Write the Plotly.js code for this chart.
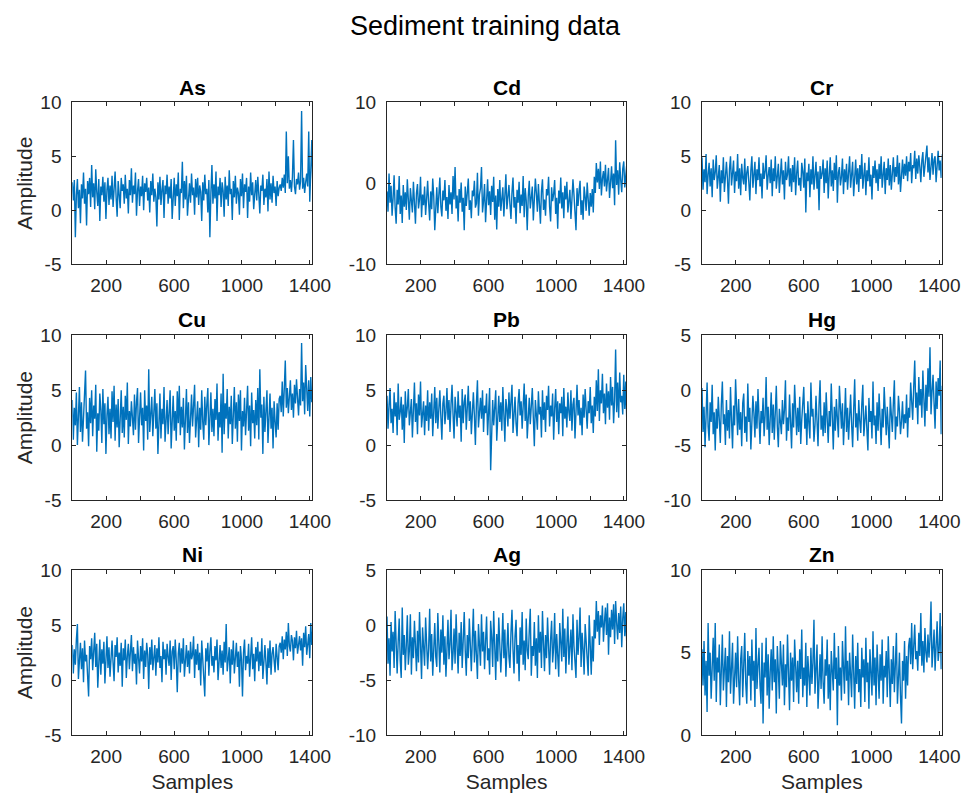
<!DOCTYPE html>
<html>
<head>
<meta charset="utf-8">
<script src="https://cdn.plot.ly/plotly-3.0.1.min.js"></script>
<style>html,body{margin:0;padding:0;background:#fff;}#chart{width:962px;height:796px;}</style>
</head>
<body>
<div id="chart"></div>
<script>
const sampleStart = 1;
const sampleStep = 6;

const names = ['As','Cd','Cr','Cu','Pb','Hg','Ni','Ag','Zn'];

const As = [2.6,0.9,2.8,-2.5,1.4,2.9,0.2,1.9,-1.2,2.4,1.1,3.5,0.6,2.0,-1.4,2.7,1.5,3.0,0.3,4.2,
1.2,2.5,0.1,3.8,1.7,0.4,2.9,-1.0,2.2,1.4,3.1,0.8,2.6,-0.8,1.9,3.0,0.5,2.3,1.0,3.2,
0.3,2.1,3.6,1.2,-0.6,2.7,1.6,0.2,3.0,1.8,2.4,0.6,3.3,1.1,2.0,-0.3,2.8,1.4,3.9,0.7,
2.3,1.5,3.5,-0.5,1.8,2.9,0.4,2.2,1.3,3.2,0.0,2.5,1.7,3.0,0.9,2.1,-0.2,2.7,1.4,3.4,
0.8,2.0,1.2,-1.5,2.6,1.0,3.1,0.5,1.9,2.8,-0.7,2.3,1.5,3.3,0.6,2.2,1.1,2.9,-0.8,1.7,
3.0,0.4,2.4,1.3,3.5,-0.9,2.0,1.6,4.5,0.2,2.7,1.0,3.2,-0.5,1.8,2.5,0.7,3.4,1.4,2.1,
-0.4,2.9,1.2,3.0,0.5,2.3,1.7,-1.0,2.6,0.9,3.3,1.5,2.0,-0.2,2.8,-2.5,1.6,4.2,0.6,2.4,
1.1,3.6,-1.0,2.2,1.4,3.0,0.3,2.6,1.8,-0.6,3.1,1.0,2.3,0.4,3.7,1.5,2.0,-0.9,2.7,1.2,
3.2,0.6,2.1,1.6,-0.4,2.9,1.3,3.4,0.2,2.4,1.7,3.0,-0.7,2.2,0.8,3.5,1.4,2.6,0.1,1.9,
2.8,0.9,3.1,1.5,-0.3,2.3,1.8,3.3,0.5,2.0,1.2,2.9,-0.1,3.6,1.0,2.5,0.7,3.2,1.6,2.2,
0.4,2.7,1.3,2.1,
2.4,1.8,3.0,2.1,3.3,1.6,7.3,2.5,5.0,2.0,2.8,1.7,3.1,6.5,2.2,1.5,2.9,2.4,3.5,1.9,2.7,9.2,2.0,3.0,1.6,2.6,3.4,2.2,7.3,0.8,2.9,6.5,2.3];

const Cd = [-1.0,-3.5,1.2,-2.4,-0.3,-4.0,-1.8,1.0,-3.0,-5.0,-0.8,-2.6,0.9,-3.8,-1.5,-4.9,-0.2,-2.9,-1.1,-3.3,
0.5,-2.2,-4.5,-0.6,-1.7,-3.6,0.2,-2.8,-5.0,-1.2,-0.1,-3.1,-2.0,0.8,-4.2,-1.4,-2.7,-0.4,-3.9,-1.9,
0.3,-2.5,-4.6,-1.0,-3.2,0.6,-1.6,-5.8,-2.3,-0.5,-3.7,-1.3,0.7,-2.9,-4.1,-0.9,-2.1,0.4,-3.4,-1.7,
-4.4,-0.2,-2.6,-1.1,-3.8,0.9,-2.0,2.0,-3.1,-1.5,-4.7,-0.7,-2.4,0.1,-3.5,-1.8,-5.8,-0.4,-2.8,-1.2,
0.6,-3.3,-2.1,-4.3,-0.9,-1.6,0.3,-3.0,-2.5,1.3,-4.0,-1.4,-0.6,2.0,-3.6,-2.2,-0.1,-4.8,-1.9,0.5,
-2.7,-1.0,-3.9,-0.3,-2.3,0.8,-4.5,-1.5,-5.7,-0.7,-2.9,0.4,-3.4,-1.8,-0.5,-4.1,-2.0,1.1,-3.2,-1.3,
-0.2,-2.6,-4.4,-1.1,0.7,-3.0,-1.7,-5.0,-0.8,-2.4,0.2,-3.7,-1.4,-2.8,0.9,-4.2,-0.6,-2.1,-5.8,-1.6,
0.3,-3.1,-1.9,-0.4,-4.6,-2.3,0.6,-1.2,-3.5,-0.1,-2.7,-5.0,-1.0,0.5,-3.3,-2.0,-4.0,-0.7,-1.5,0.8,
-2.9,-4.7,-0.5,-2.2,-1.3,0.4,-3.8,-1.8,-5.6,-0.9,-2.5,0.7,-3.1,-1.1,-4.3,-0.3,-2.0,0.2,-3.6,-1.6,
-0.8,-4.4,-2.4,0.5,-1.4,-3.2,-5.8,-0.6,-2.8,-1.0,0.3,-3.9,-2.1,-4.5,-0.4,-1.7,-3.4,0.1,-2.6,-4.0,
-1.2,-2.9,-0.7,-3.6,
0.8,-1.2,2.5,0.1,1.8,-0.7,2.7,-1.5,0.6,1.5,-0.4,2.3,-1.0,0.9,1.9,-1.8,0.3,2.1,-0.6,1.2,-2.7,5.3,-0.2,1.6,-1.4,2.6,0.4,-1.1,1.8,2.7,-0.5,1.0,2.4];

const Cr = [4.9,1.9,3.8,2.6,5.2,1.5,3.3,4.4,2.2,3.9,1.2,4.7,2.8,3.5,5.1,2.0,3.1,4.2,0.8,3.7,
2.5,4.9,1.7,3.4,4.5,2.9,0.6,3.8,5.0,2.3,3.2,4.6,1.6,3.6,2.7,5.2,2.0,3.9,1.4,4.3,
3.0,2.4,4.8,1.8,3.5,4.1,2.6,0.9,3.7,5.0,2.1,3.3,4.5,1.5,3.8,2.8,4.9,2.2,3.4,1.1,
4.4,2.9,3.6,5.1,1.9,3.2,4.0,2.5,4.7,1.3,3.9,2.7,5.0,2.0,3.5,4.3,1.6,3.1,4.8,2.4,
3.7,1.0,4.5,2.8,3.3,5.0,2.2,3.9,1.7,4.2,2.6,4.9,1.4,3.4,4.6,2.3,3.0,1.8,4.4,3.6,
2.1,4.8,-0.2,3.5,2.7,4.3,1.2,3.8,2.4,5.0,1.9,3.2,4.5,2.0,3.6,0.0,4.1,2.9,3.4,4.7,
1.6,3.9,2.5,4.6,1.1,3.3,4.9,2.2,3.7,1.8,4.4,2.8,5.1,0.7,3.5,4.0,2.3,3.1,4.8,1.5,
3.8,2.6,4.3,1.9,3.4,5.0,2.1,3.6,4.5,1.3,3.0,4.7,2.4,3.9,1.7,4.2,2.9,5.2,2.0,3.5,
4.4,1.4,3.7,2.7,4.9,2.2,3.3,1.0,4.1,3.0,4.6,2.5,3.8,1.8,4.3,2.9,5.0,2.1,3.6,4.5,
1.5,3.9,2.8,4.8,2.3,4.2,1.9,3.5,4.9,2.6,4.0,3.1,5.1,2.4,4.4,1.7,3.8,4.7,2.9,4.3,
3.2,5.0,2.7,4.5,3.6,5.3,2.5,4.2,3.9,5.5,2.9,4.8,3.4,5.1,4.0,2.6,4.6,5.4,3.1,4.3,5.2,6.0,3.5,4.9,2.8,4.4,5.3,3.3,4.7,5.0,2.6,4.1,5.5,3.7,4.6,3.0,5.2];

const Cu = [4.1,0.5,3.4,1.8,4.8,0.0,2.6,5.3,1.2,3.9,0.3,2.2,4.6,6.8,1.5,3.0,-0.1,4.3,2.0,5.0,
0.8,3.6,2.4,5.5,-0.6,2.9,1.3,4.7,3.2,0.2,5.1,1.9,3.8,-0.8,2.7,4.4,1.0,3.3,0.6,4.9,
2.1,5.4,0.4,3.7,1.6,4.2,-0.2,2.8,5.0,1.1,3.5,0.7,4.5,2.3,5.7,0.1,3.1,1.7,4.0,2.5,
0.9,4.6,1.4,3.9,5.2,0.2,2.6,4.8,1.8,3.4,-0.5,5.0,2.2,3.6,0.5,6.9,1.2,3.0,4.4,0.8,
2.9,5.1,1.5,3.8,-0.8,2.4,4.7,0.6,3.3,1.9,5.3,0.3,2.7,4.1,1.0,3.6,5.0,-0.3,2.2,4.5,
1.3,3.1,0.4,4.9,2.0,5.4,0.9,3.5,1.6,4.3,-0.4,2.8,5.1,1.1,3.9,0.2,2.5,4.6,1.7,3.2,
5.5,0.7,2.9,4.0,-0.2,3.4,1.4,5.0,2.1,0.5,4.4,1.8,3.7,5.2,0.0,2.6,4.8,1.2,3.3,0.8,
4.2,2.3,5.6,0.4,3.0,1.6,4.7,-0.7,6.5,1.0,3.8,2.4,5.1,0.6,3.5,1.9,4.5,0.1,2.8,5.3,
1.5,3.9,0.3,4.6,2.2,5.0,-0.5,3.1,1.7,4.3,0.9,2.7,5.4,1.3,3.6,-0.1,4.8,2.0,3.2,0.6,
4.1,1.8,5.2,0.5,6.9,2.5,3.7,-0.8,4.4,1.2,3.0,5.0,0.2,2.6,4.7,1.5,3.4,-0.3,4.0,2.1,
0.7,3.8,1.4,4.2,
4.5,3.0,5.8,2.6,4.9,7.7,3.4,5.2,2.9,4.1,5.9,3.2,4.7,2.5,5.5,3.8,6.0,4.3,2.7,5.1,3.6,9.3,4.0,5.7,2.8,7.3,4.4,3.1,5.9,2.6,6.2,3.9,5.0];

const Pb = [4.5,1.5,3.6,5.2,2.0,3.3,1.1,4.8,2.6,3.9,0.9,5.6,2.3,3.0,4.4,1.4,3.7,0.2,4.9,2.5,
3.4,5.1,1.8,2.8,4.2,0.7,3.5,5.7,2.1,3.8,1.0,4.6,2.7,5.8,1.6,3.2,4.0,0.9,3.6,2.2,
5.0,1.3,3.9,2.4,4.7,0.8,3.1,5.3,2.0,4.3,1.5,3.4,5.0,2.6,0.5,3.8,4.5,1.9,3.0,5.2,
2.3,4.1,1.2,3.7,5.5,2.8,0.6,4.4,3.2,1.7,4.9,2.5,3.6,0.3,5.1,2.0,3.9,4.6,1.4,3.3,
5.4,2.2,4.0,1.0,3.5,4.8,2.7,0.0,3.8,5.9,1.6,3.1,4.3,2.4,5.0,1.2,3.6,2.9,4.7,0.9,
3.4,5.2,-2.3,2.6,4.1,1.8,3.7,5.0,0.4,3.0,4.5,2.1,3.9,1.3,5.3,2.8,0.3,4.2,3.3,1.7,
4.8,2.4,3.6,5.5,1.1,3.2,4.4,2.0,0.8,3.8,5.1,2.7,4.0,1.5,3.4,5.6,2.2,4.6,0.6,3.1,
4.3,1.9,3.7,5.2,2.5,-0.1,4.1,3.0,1.4,4.9,2.8,3.5,0.7,5.0,2.3,3.9,1.2,4.5,3.2,5.4,
1.7,3.6,2.6,4.7,0.5,3.3,5.1,2.1,4.0,1.0,3.8,2.9,4.4,0.8,5.2,2.4,3.5,1.6,4.8,3.0,
2.2,5.0,1.3,3.7,4.3,0.6,3.1,5.5,2.7,4.1,1.8,3.4,0.9,4.6,2.5,5.1,3.2,1.5,4.0,2.9,
5.3,2.0,3.6,1.1,
4.4,2.6,5.9,3.1,6.9,2.2,5.0,3.8,6.5,2.9,4.7,1.9,5.6,3.4,4.9,2.3,6.2,3.6,5.3,2.0,4.1,8.7,3.0,5.7,2.5,6.6,3.9,4.5,2.8,6.4,3.3,5.8,2.1];

const Hg = [0.2,-3.8,-1.5,-5.2,-2.4,0.7,-3.3,-4.6,-1.1,-2.9,0.5,-4.0,-2.0,-5.5,-1.7,-3.5,-0.6,-2.6,-4.8,-1.3,
0.8,-3.1,-2.2,-5.0,-0.9,-3.7,-1.8,-4.4,0.3,-2.7,-5.3,-1.4,-3.2,1.0,-2.5,-4.1,-0.8,-3.6,-2.0,-5.1,
-1.2,-0.3,-3.9,-2.4,-4.7,0.6,-2.9,-1.6,-5.4,-3.3,-0.5,-2.1,-4.3,-1.0,-3.5,0.1,-2.7,-4.9,-1.9,-3.0,
-0.7,-4.2,-2.3,1.2,-3.6,-1.5,-5.0,-2.8,-0.2,-3.9,-1.3,-4.5,-2.0,0.4,-3.3,-5.2,-1.7,-2.6,-4.0,-0.9,
-3.1,-1.8,0.9,-4.6,-2.5,-3.7,-0.4,-2.9,-5.3,-1.2,-3.4,0.5,-2.2,-4.1,-1.6,-3.8,-0.6,-4.9,-2.7,-1.4,
0.3,-3.5,-2.1,-5.0,-1.0,-3.0,-4.4,0.7,-2.4,-1.7,-4.7,-3.2,-0.5,-2.8,-5.1,-1.3,0.9,-3.6,-2.3,-4.2,
-1.1,-3.9,-0.2,-2.6,-4.8,-1.9,-3.3,0.6,-2.0,-5.4,-1.5,-3.7,-0.8,-2.9,-4.3,0.4,-2.2,-3.5,-1.2,-5.0,
-2.7,0.2,-3.8,-1.6,-4.5,-2.4,-0.4,-3.1,-5.2,-1.8,1.0,-3.4,-2.1,-4.6,-0.9,-2.8,-3.9,-1.3,0.5,-4.2,
-2.5,-1.4,-3.6,-5.5,-0.7,-2.9,-1.9,-4.4,0.8,-3.2,-2.3,-4.9,-1.1,-3.7,-0.3,-2.6,-5.0,-1.7,-3.4,0.3,
-2.0,-4.1,-1.5,-3.0,-5.3,-0.6,-2.7,-3.8,-1.2,0.9,-4.5,-2.4,-3.3,-0.5,-1.9,-4.0,-2.8,-1.0,-3.5,-2.2,
-3.0,-0.4,-4.3,-1.6,-2.5,0.7,-1.0,-2.7,0.3,2.7,-1.6,-0.2,-3.1,1.2,-1.4,0.1,-2.5,1.8,-0.8,-3.3,0.5,-1.9,2.0,-0.6,3.9,-2.2,-0.1,1.4,-1.2,-3.5,0.8,-1.7,1.1,-0.5,2.7,-4.0,0.4];

const Ni = [3.2,0.6,2.8,1.4,3.7,5.1,0.1,2.5,3.4,1.0,2.9,-0.2,3.6,1.7,2.3,0.4,-1.5,3.1,1.9,3.8,
0.9,2.6,4.3,1.2,3.3,-0.7,2.0,3.7,0.5,2.8,1.5,3.5,-0.3,2.4,4.0,1.1,3.0,0.3,2.7,3.6,
1.6,-0.1,3.2,2.1,3.9,0.7,2.5,1.3,3.4,-0.6,2.9,1.8,3.7,0.2,2.2,3.3,1.0,2.6,4.1,0.8,
3.0,1.5,2.4,-0.4,3.6,2.0,0.6,3.1,1.7,3.8,0.1,2.7,1.2,3.4,2.3,-0.8,3.0,1.4,3.7,0.9,
2.5,3.2,0.4,2.9,1.6,3.9,1.1,2.2,-0.2,3.5,1.9,2.8,0.5,3.3,2.1,1.3,3.6,0.0,2.6,3.1,
1.0,3.7,1.8,-1.1,2.4,3.4,0.7,2.9,1.5,3.8,0.3,2.0,3.2,1.2,2.7,0.6,3.5,1.9,2.3,4.0,
0.2,2.8,1.4,3.3,0.9,2.5,-0.5,3.6,2.1,1.0,-1.5,2.9,1.7,3.4,0.4,2.6,3.9,1.3,2.2,0.7,
3.1,1.8,3.7,0.0,2.4,3.2,1.1,2.7,0.5,3.5,1.6,5.1,0.8,2.3,3.0,-0.3,2.8,1.4,3.6,0.6,
2.0,3.4,1.2,2.6,-0.6,3.1,1.9,-1.5,2.5,3.7,0.9,2.2,1.5,3.3,0.3,2.8,3.9,1.0,2.4,-0.1,
3.0,1.7,3.5,0.8,2.6,1.3,3.8,0.1,2.1,3.2,1.6,-0.4,2.9,1.1,3.6,0.5,2.4,3.0,1.8,0.7,
3.3,2.0,0.9,3.1,
3.4,2.5,4.0,1.9,3.7,2.8,4.4,2.2,5.2,3.1,2.6,4.1,3.6,1.8,3.9,2.9,4.5,2.4,3.3,4.0,2.7,3.8,1.3,4.3,3.0,4.9,2.3,3.5,4.2,2.0,5.2,3.2,4.6];

const Ag = [0.8,-3.5,-1.2,-4.6,0.3,-2.4,-0.6,-3.9,1.3,-2.0,-4.4,-1.5,0.6,-3.2,-4.8,1.6,-2.7,-0.9,-4.1,-1.8,
0.9,-3.6,-2.3,1.0,-4.5,-1.1,-3.0,0.4,-2.6,-4.2,-0.5,-3.4,1.2,-1.9,-4.9,-0.2,-2.8,-3.7,0.7,-1.4,
-4.0,-2.1,1.5,-3.3,-0.8,-4.6,-1.6,0.2,-2.9,-3.8,1.1,-1.3,-4.3,-0.4,-2.5,0.9,-3.6,-1.0,-4.7,-2.2,
0.5,-3.1,-1.7,1.4,-4.1,-2.6,-0.3,-3.5,1.0,-1.9,-4.4,-0.7,-2.8,0.3,-3.9,-1.4,1.2,-2.3,-4.6,-0.9,
-3.0,0.6,-2.0,-4.2,-1.2,1.5,-3.4,-0.5,-2.7,-4.9,0.1,-1.8,-3.7,1.0,-2.4,-0.6,-4.0,-1.5,0.8,-3.2,
-2.1,-4.5,0.4,-1.1,-3.8,1.3,-2.6,-5.0,-0.8,-3.3,0.7,-1.7,-4.3,-2.0,1.1,-3.0,-0.4,-4.7,-1.3,0.2,
-2.9,-3.9,-0.7,1.4,-2.2,-4.4,-1.0,0.5,-3.5,-1.8,-5.1,-0.2,-2.7,1.2,-3.6,-1.4,-4.1,0.6,-2.3,-3.1,
-0.5,1.5,-4.6,-1.9,-2.8,0.3,-3.7,-1.2,-4.8,0.9,-2.5,-0.6,-3.9,1.3,-1.6,-4.2,-0.9,-3.0,0.7,-2.1,
-4.5,-1.3,0.4,-3.4,-2.0,1.1,-4.0,-0.8,-2.6,-4.7,0.2,-1.5,-3.3,1.5,-2.9,-0.3,-4.4,-1.7,0.8,-3.6,
-2.4,-0.4,-4.1,1.0,-1.9,-3.2,-4.8,0.5,-2.7,-1.1,1.6,-3.8,-0.7,-2.2,-4.5,0.1,-1.6,-3.5,-4.6,0.9,
-2.8,-4.5,-1.0,-3.3,
0.5,-1.2,2.2,-0.6,1.3,-1.8,0.9,-0.2,1.8,-1.5,0.3,1.6,-0.9,2.0,-2.7,0.7,-1.1,1.4,-0.4,1.9,-1.7,2.2,0.2,-1.3,1.1,-0.7,1.7,-2.0,0.6,2.0,-1.0,1.2,-1.9];

const Zn = [5.2,3.0,5.7,2.4,4.5,1.4,6.8,3.6,5.0,2.2,4.1,5.9,3.3,6.8,2.0,4.7,3.8,5.5,1.8,4.3,
6.1,2.7,3.9,5.3,1.7,4.8,3.2,6.3,2.5,4.4,5.6,1.9,3.7,5.0,2.9,6.0,3.4,1.8,4.6,5.4,
2.3,4.0,6.2,3.1,1.9,5.1,3.6,4.8,2.1,5.8,3.3,4.5,1.7,6.5,2.8,4.2,5.3,3.0,1.9,5.6,
0.7,4.4,3.5,5.9,2.4,4.9,1.6,3.8,5.2,2.7,6.0,3.2,4.6,1.3,5.4,3.9,2.2,5.7,4.1,3.0,
5.5,1.8,4.3,2.9,6.1,3.6,1.5,5.0,3.3,4.7,2.0,5.8,3.9,2.6,4.5,1.9,5.2,3.4,6.4,2.3,
4.1,3.0,5.6,1.7,4.8,3.7,2.4,5.3,3.1,4.4,7.0,2.5,4.0,5.5,1.6,3.5,4.9,2.8,6.0,3.2,
1.9,4.6,3.6,5.8,2.2,4.3,1.5,5.1,3.9,2.7,6.2,3.4,4.7,0.6,5.4,3.0,4.1,2.1,5.7,3.8,
2.5,6.6,3.3,4.5,1.8,5.0,3.7,2.3,6.1,4.2,1.6,4.8,3.1,5.6,2.6,4.0,1.7,5.3,3.5,4.6,
2.0,5.9,3.2,4.4,1.6,5.2,3.8,2.4,6.3,3.0,4.7,1.8,5.5,3.6,2.2,4.9,3.3,5.8,1.9,4.2,
3.5,5.1,2.3,6.0,3.9,1.7,4.6,3.1,5.4,2.6,4.3,6.2,1.9,3.7,5.0,2.4,0.7,4.5,3.3,5.7,
2.2,4.8,3.0,5.4,
5.9,4.3,6.8,4.0,5.5,6.7,4.6,5.1,3.9,6.2,4.8,7.4,4.2,5.7,3.8,6.5,5.0,4.4,6.1,4.7,5.8,8.1,4.1,5.3,6.4,3.9,5.6,6.9,4.5,5.2,7.4,4.0,6.6];

const series = [As, Cd, Cr, Cu, Pb, Hg, Ni, Ag, Zn];

const yRanges = [[-5,10],[-10,10],[-5,10],[-5,10],[-5,10],[-10,5],[-5,10],[-10,5],[0,10]];
const yTickVals = [[-5,0,5,10],[-10,0,10],[-5,0,5,10],[-5,0,5,10],[-5,0,5,10],[-10,-5,0,5],[-5,0,5,10],[-10,-5,0,5],[0,5,10]];
const xTickVals = [200,400,600,800,1000,1200,1400];
const xTickText = ['200','','600','','1000','','1400'];

const W = 962, H = 796;
const colPx = [[72.3,312.3],[387,626.3],[702,941.7]];
const rowPx = [[102.3,264.3],[335.3,500],[570.3,735]];
const titleCenterPx = [87,319,554];

const FONT = 'Liberation Sans, Arial, Helvetica, sans-serif';
const AX = '#262626';

const data = [];
const layout = {
  width: W, height: H,
  margin: {l:0, r:0, t:0, b:0},
  paper_bgcolor: '#ffffff',
  plot_bgcolor: '#ffffff',
  showlegend: false,
  font: {family: FONT, color: AX},
  title: {
    text: 'Sediment training data',
    font: {family: FONT, size: 27, color: '#000000'},
    x: 485 / W, xref: 'paper', xanchor: 'center',
    y: 1 - 26 / H, yref: 'container', yanchor: 'middle'
  },
  annotations: []
};

for (let k = 0; k < 9; k++) {
  const r = Math.floor(k / 3), c = k % 3;
  const sx = k === 0 ? '' : String(k + 1);
  data.push({
    type: 'scatter', mode: 'lines',
    x0: sampleStart, dx: sampleStep,
    y: series[k],
    xaxis: 'x' + sx, yaxis: 'y' + sx,
    line: {color: '#0072BD', width: 1.4},
    hoverinfo: 'skip',
    name: names[k]
  });
  const xa = {
    domain: [colPx[c][0] / W, colPx[c][1] / W],
    range: [1, 1414],
    anchor: 'y' + sx,
    showgrid: false, zeroline: false,
    showline: true, linecolor: AX, linewidth: 1, mirror: 'ticks',
    ticks: 'inside', ticklen: 4, tickwidth: 1, tickcolor: AX,
    tickmode: 'array', tickvals: xTickVals, ticktext: xTickText,
    tickfont: {family: FONT, size: 19, color: AX},
    ticklabelstandoff: 4
  };
  if (r === 2) {
    xa.title = {text: 'Samples', font: {family: FONT, size: 21, color: AX}, standoff: 8};
  }
  const ya = {
    domain: [1 - rowPx[r][1] / H, 1 - rowPx[r][0] / H],
    range: yRanges[k],
    anchor: 'x' + sx,
    showgrid: false, zeroline: false,
    showline: true, linecolor: AX, linewidth: 1, mirror: 'ticks',
    ticks: 'inside', ticklen: 4, tickwidth: 1, tickcolor: AX,
    tickmode: 'array', tickvals: yTickVals[k],
    ticktext: yTickVals[k].map(v => String(v)),
    tickfont: {family: FONT, size: 19, color: AX},
    ticklabelstandoff: 6
  };
  if (c === 0) {
    ya.title = {text: 'Amplitude', font: {family: FONT, size: 21, color: AX}, standoff: 2};
  }
  layout['xaxis' + sx] = xa;
  layout['yaxis' + sx] = ya;
  layout.annotations.push({
    text: '<b>' + names[k] + '</b>',
    x: (colPx[c][0] + colPx[c][1]) / 2 / W, xref: 'paper', xanchor: 'center',
    y: 1 - titleCenterPx[r] / H, yref: 'paper', yanchor: 'middle',
    showarrow: false,
    font: {family: FONT, size: 21, color: '#000000'}
  });
}

Plotly.newPlot('chart', data, layout, {staticPlot: true, displayModeBar: false});
</script>
</body>
</html>
